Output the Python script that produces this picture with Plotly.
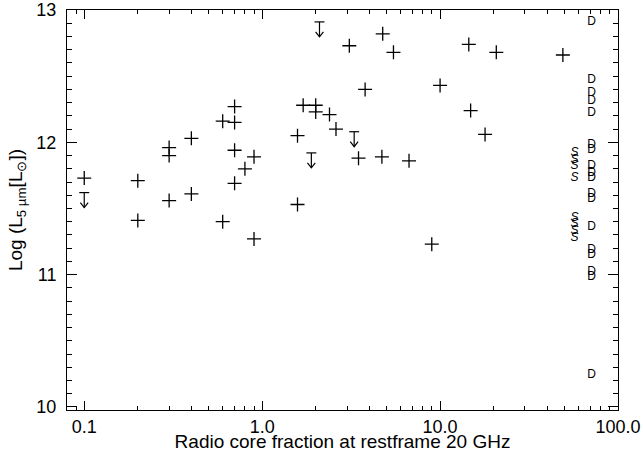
import numpy as np
import plotly.graph_objects as go

# Detections: radio core fraction (%) at restframe 20 GHz vs log L(5um)
core_frac = [0.1, 0.2, 0.2, 0.3, 0.4, 0.3, 0.3, 0.4, 0.6, 0.7, 0.7, 0.7, 0.7,
             0.8, 0.9, 0.6, 0.9, 1.58, 1.58, 1.70, 2.0, 2.0, 2.39, 2.60, 3.09,
             3.48, 3.79, 4.71, 4.76, 5.47, 6.69, 8.98, 10.0, 14.5, 14.85, 17.9,
             20.7, 49.0]
lum = [11.73, 11.71, 11.41, 11.56, 11.61, 11.96, 11.90, 12.03, 12.16, 12.27,
       12.15, 11.94, 11.69, 11.80, 11.89, 11.40, 11.27, 11.53, 12.05, 12.28,
       12.28, 12.23, 12.21, 12.10, 12.73, 11.88, 12.40, 11.89, 12.82, 12.68,
       11.86, 11.23, 12.43, 12.74, 12.24, 12.06, 12.68, 12.66]

# Upper limits
ul_frac = [0.1, 1.89, 2.10, 3.29]
ul_lum = [11.62, 11.92, 12.91, 12.08]

# Objects without core fraction, labelled by type (D and S), shown at right edge
d_lum = [12.91, 12.47, 12.37, 12.31, 12.22, 11.98, 11.94, 11.82, 11.77, 11.73,
         11.61, 11.57, 11.36, 11.19, 11.15, 11.02, 10.98, 10.24]
s_lum = [11.92, 11.87, 11.82, 11.73, 11.43, 11.38, 11.33, 11.28]
D_COL = 71.0
S_COL = 57.0

x_tickvals = [0.1, 1, 10, 100]
x_ticktext = ["0.1", "1.0", "10.0", "100.0"]
y_tickvals = [10, 11, 12, 13]

FONT = "Liberation Sans, Arial, sans-serif"

fig = go.Figure()

fig.add_trace(go.Scatter(
    x=core_frac, y=lum, mode="markers",
    marker=dict(symbol="cross-thin-open", size=10, color="black",
                line=dict(color="black", width=1.3)),
    showlegend=False, hoverinfo="skip"))

# upper-limit arrows built from the data values
ax, ay = [], []
bar = 0.028      # half bar width in decades
vlen = 0.113     # arrow length in y units
hw, hh = 0.022, 0.038
for xv, yv in zip(ul_frac, ul_lum):
    tip = yv - vlen
    ax += [xv * 10 ** -bar, xv * 10 ** bar, None,
           xv, xv, None,
           xv * 10 ** -hw, xv, xv * 10 ** hw, None]
    ay += [yv, yv, None,
           yv, tip, None,
           tip + hh, tip, tip + hh, None]
fig.add_trace(go.Scatter(x=ax, y=ay, mode="lines",
                         line=dict(color="black", width=1.2),
                         showlegend=False, hoverinfo="skip"))

fig.add_trace(go.Scatter(
    x=[D_COL] * len(d_lum), y=d_lum, mode="text", text=["D"] * len(d_lum),
    textfont=dict(family=FONT, size=12, color="black"),
    showlegend=False, hoverinfo="skip"))
fig.add_trace(go.Scatter(
    x=[S_COL] * len(s_lum), y=s_lum, mode="text", text=["<i>S</i>"] * len(s_lum),
    textfont=dict(family=FONT, size=12, color="black"),
    showlegend=False, hoverinfo="skip"))

minor_x = [m * d for d in (0.01, 0.1, 1, 10) for m in range(2, 10)]
minor_x = [v for v in minor_x if 0.08 <= v <= 100 and v not in x_tickvals]
minor_y = [round(10 + 0.1 * i, 1) for i in range(31)]
minor_y = [v for v in minor_y if v not in y_tickvals]

fig.update_layout(
    width=643, height=452,
    margin=dict(l=67, r=25, t=10, b=42),
    paper_bgcolor="white", plot_bgcolor="white",
    font=dict(family=FONT, size=18, color="black"),
    xaxis=dict(
        type="log", range=[np.log10(0.08), 2.0], automargin=False,
        tickvals=x_tickvals, ticktext=x_ticktext,
        ticks="inside", ticklen=9, tickwidth=1, tickcolor="black",
        minor=dict(tickvals=minor_x, ticks="inside", ticklen=4,
                   tickwidth=1, tickcolor="black", showgrid=False),
        showline=True, linecolor="black", linewidth=1, mirror="ticks",
        showgrid=False, zeroline=False,
        title=dict(text="Radio core fraction at restframe 20 GHz",
                   font=dict(size=19), standoff=4),
        tickfont=dict(size=18),
    ),
    yaxis=dict(
        range=[9.977, 13.0], automargin=False,
        tickvals=y_tickvals, ticktext=[str(v) for v in y_tickvals],
        ticks="inside", ticklen=10, tickwidth=1, tickcolor="black",
        minor=dict(tickvals=minor_y, ticks="inside", ticklen=5,
                   tickwidth=1, tickcolor="black", showgrid=False),
        showline=True, linecolor="black", linewidth=1, mirror="ticks",
        showgrid=False, zeroline=False,
        title=dict(text="Log (L<sub>5 \u00b5m</sub>[L<sub>\u2299</sub>])",
                   font=dict(size=19), standoff=8),
        tickfont=dict(size=18),
        ticklabelstandoff=6,
    ),
)

fig.write_html("out.html")
